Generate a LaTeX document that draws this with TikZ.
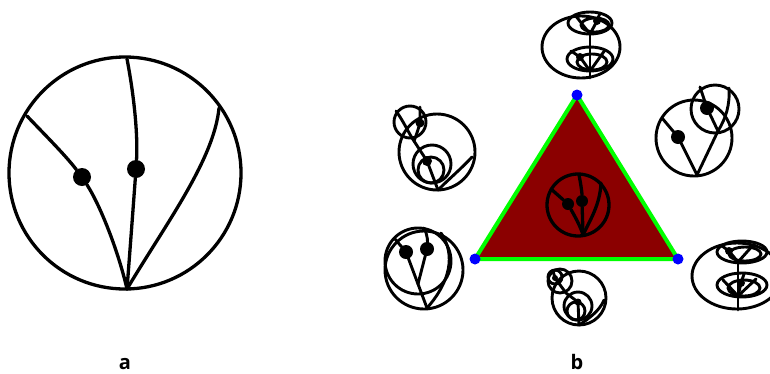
\documentclass[tikz,border=0pt]{standalone}
\usepackage{fontspec}
\setmainfont{Open Sans}
\usetikzlibrary{positioning}
\definecolor{tridark}{RGB}{139,0,0}
\definecolor{trigreen}{RGB}{0,255,0}
\begin{document}
\begin{tikzpicture}[x=1pt, y=-1pt, line cap=round, line join=round,
    ln/.style={line width=3.3pt},
    thinln/.style={line width=2.9pt},
    bigdot/.style={circle, fill=black, inner sep=0pt, minimum size=18pt},
    middot/.style={circle, fill=black, inner sep=0pt, minimum size=12pt},
    vtx/.style={circle, fill=blue, inner sep=0pt, minimum size=11pt},
    lab/.style={anchor=base, inner sep=0pt, font=\bfseries\fontsize{20}{24}\selectfont}]
  \useasboundingbox (0,0) rectangle (770,373);

  % panel a
  \draw[ln] (125,173) circle (116);
  \coordinate (ta1) at (27,116);
  \coordinate (ta2) at (127,59);
  \coordinate (ta3) at (219,108);
  \coordinate (root) at (127,289);
  \node[bigdot] (da1) at (82,177) {};
  \node[bigdot] (da2) at (136,169) {};
  \draw[ln] (ta1) .. controls (48,138) and (66,156) .. (da1);
  \draw[ln] (da1) .. controls (100,205) and (118,250) .. (root);
  \draw[ln] (ta2) .. controls (134,95) and (138,135) .. (da2);
  \draw[ln] (da2) .. controls (133,210) and (130,250) .. (root);
  \draw[ln] (ta3) .. controls (214,160) and (165,225) .. (root);

  % panel b: triangle
  \coordinate (c1) at (577,95);
  \coordinate (c2) at (475,259);
  \coordinate (c3) at (678,259);
  \filldraw[fill=tridark, draw=trigreen, line width=4pt] (c1) -- (c2) -- (c3) -- cycle;
  \node[vtx] (v1) at (c1) {};
  \node[vtx] (v2) at (c2) {};
  \node[vtx] (v3) at (c3) {};

  % disc in the middle
  \draw[ln] (578,205) circle (31);
  \coordinate (tb1) at (551,189);
  \coordinate (tb2) at (579,175);
  \coordinate (tb3) at (601,183);
  \coordinate (rootb) at (583,235);
  \node[middot] (db1) at (568,204) {};
  \node[middot] (db2) at (582,201) {};
  \draw[ln] (tb1) -- (db1);
  \draw[ln] (db1) .. controls (574,215) and (580,225) .. (rootb);
  \draw[ln] (tb2) .. controls (581,185) and (582,193) .. (db2);
  \draw[ln] (db2) -- (rootb);
  \draw[ln] (tb3) .. controls (600,205) and (590,220) .. (rootb);

  % upper left
  \draw[thinln] (437,152) circle (38);
  \draw[thinln] (410,122) circle (16);
  \draw[thinln] (432,164) circle (19);
  \draw[thinln] (431,170) circle (13);
  \fill (420,123) circle (4.5);
  \fill (427,161) circle (5);
  \draw[thinln] (396,111) .. controls (404,122) and (408,132) .. (414,141);
  \draw[thinln] (420,107) -- (420,123) .. controls (418,130) and (416,136) .. (414,141);
  \draw[thinln] (414,141) -- (427,161) -- (438,190);
  \draw[thinln] (438,190) .. controls (450,178) and (462,168) .. (472,157);

  % top
  \draw[thinln] (581,47) ellipse (39 and 31);
  \draw[thinln] (590,23) ellipse (22 and 11);
  \draw[thinln] (595,25) ellipse (14 and 7);
  \draw[thinln] (590,59) ellipse (23 and 12);
  \draw[thinln] (592,62) ellipse (15 and 8);
  \fill (597,21) circle (4);
  \fill (580,57) circle (4);
  \draw[thinln] (590,34) -- (590,78);
  \draw[thinln] (590,34) -- (575,15);
  \draw[thinln] (590,34) -- (597,21) -- (600,13);
  \draw[thinln] (590,71) -- (580,57) -- (571,51);
  \draw[thinln] (590,71) -- (605,50);

  % upper right
  \draw[thinln] (694,138) circle (38);
  \draw[thinln] (715,109) circle (24);
  \fill (678,137) circle (7);
  \fill (707,108) circle (7);
  \draw[thinln] (662,118) -- (678,137) -- (697,175);
  \draw[thinln] (700,87) -- (707,108) -- (718,131);
  \draw[thinln] (729,88) .. controls (730,105) and (726,118) .. (718,131) -- (697,175);

  % lower left
  \draw[thinln] (424,270) circle (39);
  \draw[thinln] (418,261) circle (33);
  \fill (406,252) circle (7);
  \fill (427,249) circle (7);
  \draw[thinln] (395,239) -- (406,252) -- (418,284);
  \draw[thinln] (424,228) .. controls (428,236) and (428,242) .. (427,249) -- (418,284);
  \draw[thinln] (418,284) -- (427,308);
  \draw[thinln] (427,308) .. controls (450,282) and (456,255) .. (441,233);

  % bottom
  \draw[thinln] (579,298) circle (27);
  \draw[thinln] (560,281) circle (12);
  \draw[thinln] (555,277) circle (7);
  \draw[thinln] (578,306) circle (14);
  \draw[thinln] (576,311) circle (9);
  \fill (555,278) circle (3);
  \fill (578,302) circle (3.5);
  \draw[thinln] (553,271) -- (555,278) -- (566,293) -- (578,302) -- (579,325);
  \draw[thinln] (579,325) .. controls (590,318) and (600,310) .. (604,300);

  % lower right
  \begin{scope}
    \clip (680,225) rectangle (770,320);
    \draw[thinln] (737,276) ellipse (45 and 33);
  \end{scope}
  \draw[thinln] (742,252) ellipse (25 and 11);
  \draw[thinln] (745,254) ellipse (16 and 7);
  \draw[thinln] (742,285) ellipse (25 and 12);
  \draw[thinln] (744,288) ellipse (16 and 8);
  \fill (729,251) circle (4);
  \fill (741,283) circle (4);
  \draw[thinln] (738,262) -- (738,310);
  \draw[thinln] (738,262) -- (729,251) -- (722,246);
  \draw[thinln] (738,262) -- (755,243);
  \draw[thinln] (738,296) -- (741,283) -- (744,274);
  \draw[thinln] (738,296) -- (723,280);
  \draw[thinln] (738,296) -- (756,279);

  % labels
  \node[lab] (la) at (125,369) {a};
  \node[lab] (lb) at (577,369) {b};
\end{tikzpicture}
\end{document}
